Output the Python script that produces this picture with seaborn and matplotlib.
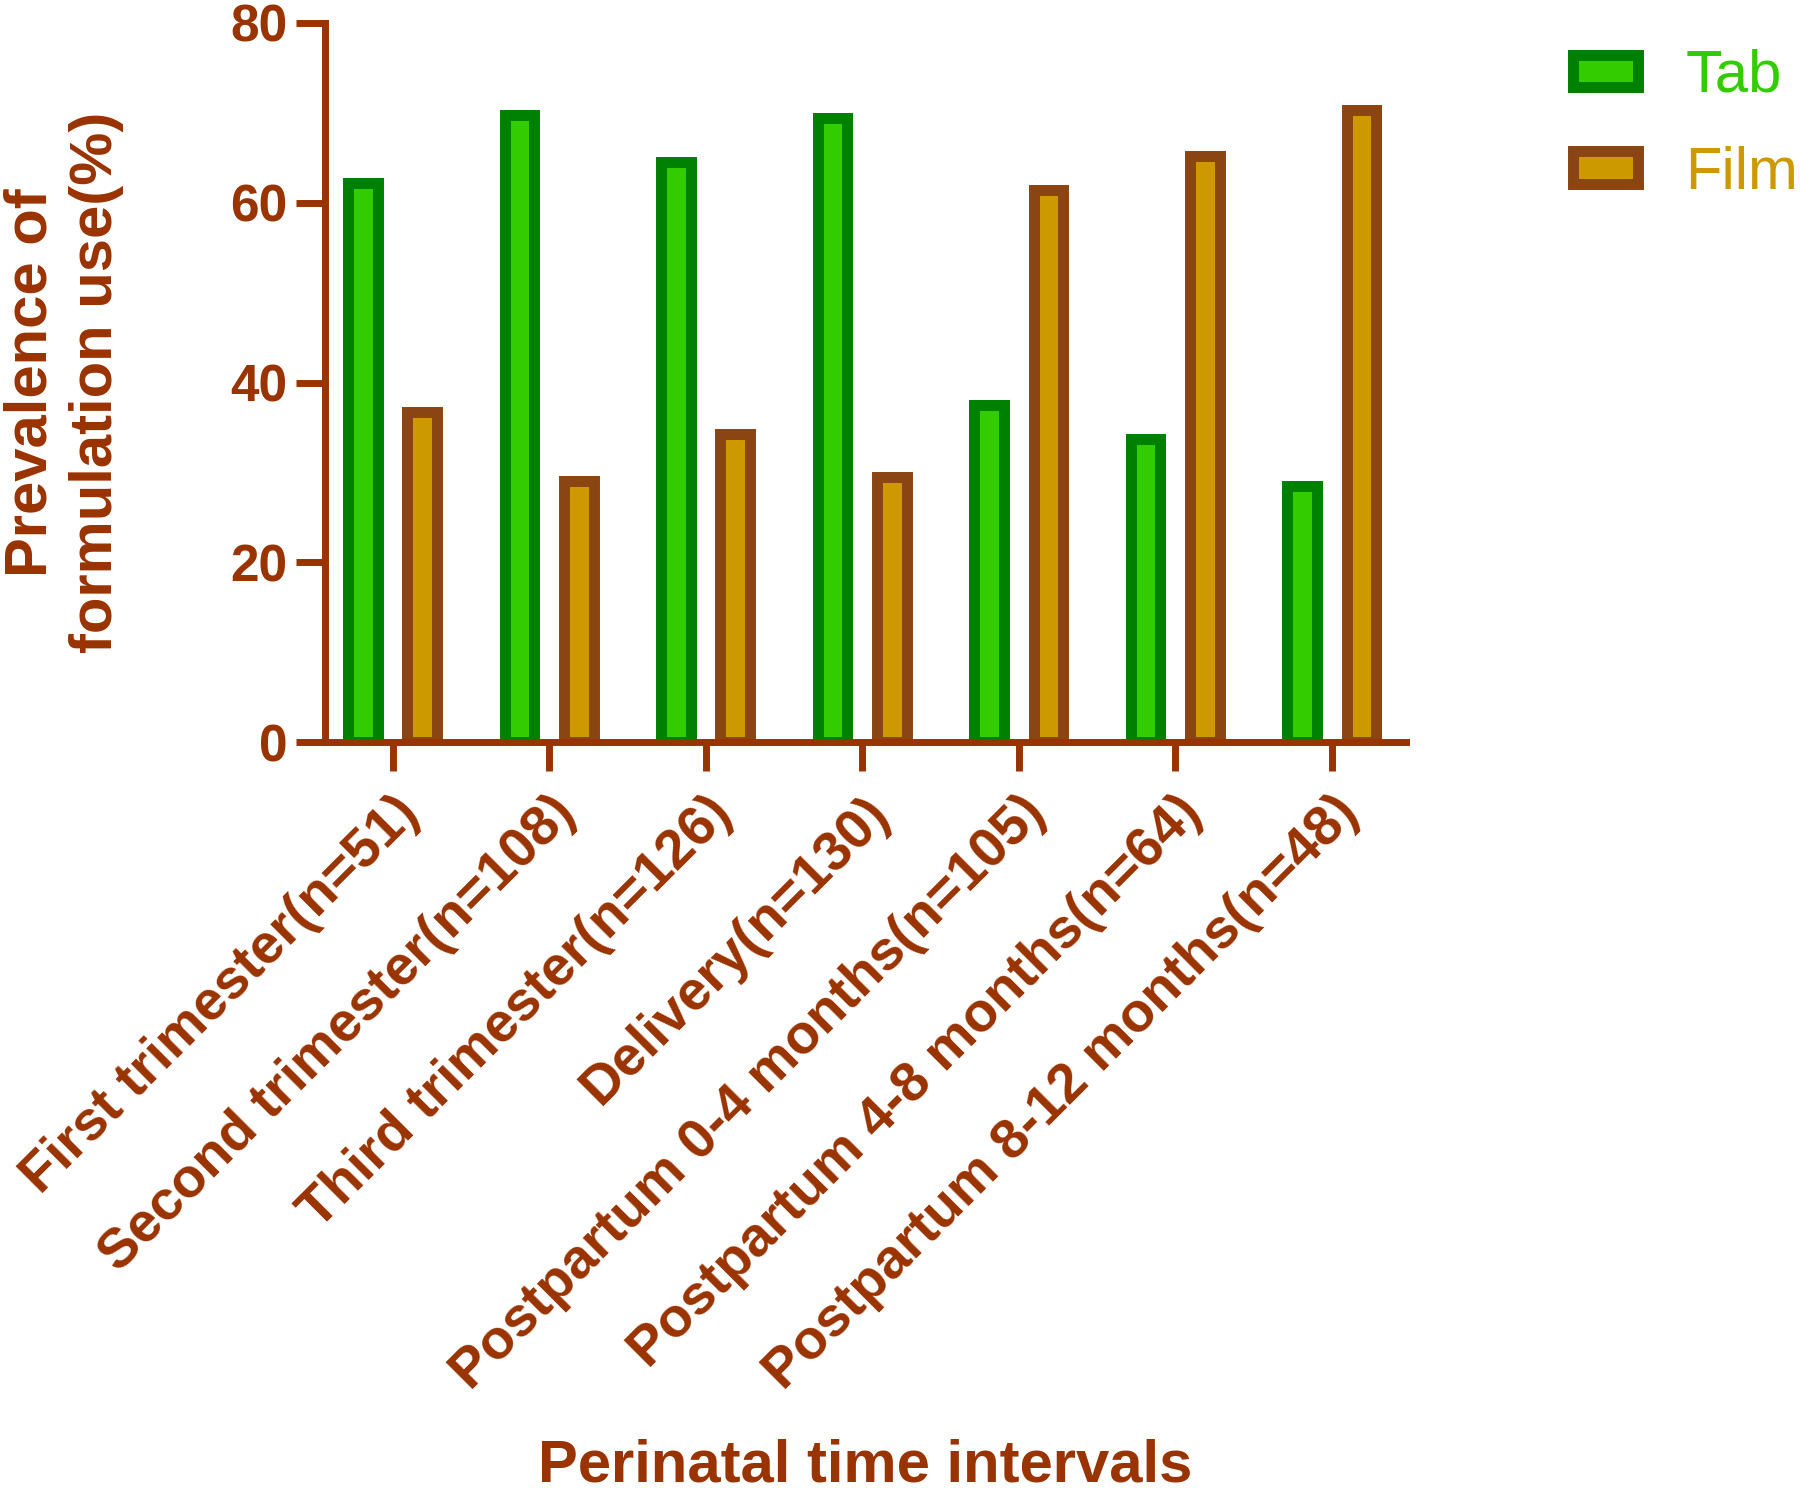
import matplotlib
matplotlib.use("Agg")
import matplotlib.pyplot as plt
import matplotlib.transforms as mtransforms
import seaborn as sns
import pandas as pd

categories = ["First trimester(n=51)", "Second trimester(n=108)", "Third trimester(n=126)",
              "Delivery(n=130)", "Postpartum 0-4 months(n=105)", "Postpartum 4-8 months(n=64)",
              "Postpartum 8-12 months(n=48)"]
tab = [62.2, 69.8, 64.5, 69.4, 37.5, 33.7, 28.5]
film = [36.7, 29.0, 34.3, 29.5, 61.4, 65.2, 70.3]
series = ["Tab", "Film"]
yticks = [0, 20, 40, 60, 80]

AX = "#993300"
face = {"Tab": "#33CC00", "Film": "#CC9900"}
edge = {"Tab": "#008000", "Film": "#8B4513"}

sns.set_style("white")
plt.rcParams["font.family"] = ["Liberation Sans", "DejaVu Sans"]

df = pd.DataFrame({
    "Interval": categories * 2,
    "Formulation": ["Tab"] * len(categories) + ["Film"] * len(categories),
    "Prevalence": tab + film,
})

fig = plt.figure(figsize=(18, 14.88), dpi=100)
ax = fig.add_axes([325 / 1800, 1 - 742 / 1488, 1081 / 1800, 719 / 1488])

sns.barplot(data=df, x="Interval", y="Prevalence", hue="Formulation", hue_order=series,
            palette=face, width=0.76, gap=0.5, ax=ax, legend=False, saturation=1)

for cont, s in zip(ax.containers, series):
    for p in cont.patches:
        p.set_edgecolor(edge[s])
        p.set_linewidth(7.9)

ax.set_xlim(-0.432, 6.475)
ax.set_ylim(0, 80)
ax.set_yticks(yticks)
for side in ["top", "right"]:
    ax.spines[side].set_visible(False)
for side in ["left", "bottom"]:
    ax.spines[side].set_color(AX)
    ax.spines[side].set_linewidth(5)

ax.tick_params(axis="both", colors=AX, length=21, width=5, direction="out",
               bottom=True, left=True)
ax.tick_params(axis="y", labelsize=37, pad=6)
ax.tick_params(axis="x", labelsize=40, pad=4)
for lab in ax.get_yticklabels():
    lab.set_fontweight("bold")
    lab.set_color(AX)

ax.set_xticks(range(len(categories)))
ax.set_xticklabels(categories, rotation=45, ha="right", va="top", rotation_mode="anchor",
                   fontweight="bold", color=AX)
off = mtransforms.ScaledTranslation(0 / 100, -10 / 100, fig.dpi_scale_trans)
for lab in ax.get_xticklabels():
    lab.set_transform(lab.get_transform() + off)

ax.set_ylabel("Prevalence of\nformulation use(%)", fontsize=43, fontweight="bold", color=AX,
              linespacing=1.25)
ax.yaxis.set_label_coords(-0.186, 0.5)
ax.set_xlabel("Perinatal time intervals", fontsize=43, fontweight="bold", color=AX, va="baseline")
ax.xaxis.set_label_coords(0.5, -1.028)

leg = fig.legend(handles=list(ax.containers), labels=series, loc="upper left",
                 bbox_to_anchor=(1573 / 1800, 1 - 49 / 1488), frameon=False, fontsize=43,
                 borderpad=0, borderaxespad=0, handlelength=1.08, handleheight=0.45,
                 handletextpad=0.8, labelspacing=0.70)
for t, s in zip(leg.get_texts(), series):
    t.set_color(face[s])

fig.savefig("out.png", dpi=100)
